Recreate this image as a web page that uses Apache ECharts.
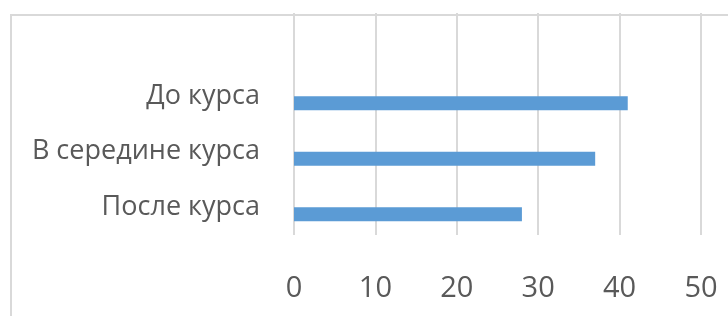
<!DOCTYPE html>
<html>
<head>
<meta charset="utf-8">
<script src="https://cdn.jsdelivr.net/npm/echarts@6/dist/echarts.min.js"></script>
<style>
html,body{margin:0;padding:0;background:#fff;}
#chart{width:728px;height:316px;}
</style>
</head>
<body>
<div id="chart"></div>
<script>
// категории снизу вверх, верхняя пустая (как в исходнике)
let categories = ['После курса', 'В середине курса', 'До курса', ''];
let values = [28, 37, 41, null];
let emptyValues = [null, null, null, null];
let xTicks = [0, 10, 20, 30, 40, 50];

let chart = echarts.init(document.getElementById('chart'));
let option = {
    animation: false,
    grid: {left: 294, right: 27, top: 13, bottom: 81},
    graphic: [{
        type: 'rect',
        shape: {x: 11, y: 15, width: 800, height: 400},
        style: {fill: 'none', stroke: '#d9d9d9', lineWidth: 2},
        silent: true,
        z: -1
    }],
    xAxis: {
        type: 'value',
        min: xTicks[0],
        max: xTicks[xTicks.length - 1],
        interval: 10,
        axisLine: {show: false},
        axisTick: {show: false},
        splitLine: {show: true, lineStyle: {color: '#d9d9d9', width: 2}},
        axisLabel: {
            color: '#595959',
            fontFamily: 'Open Sans',
            fontSize: 29,
            margin: 39
        }
    },
    yAxis: {
        type: 'category',
        data: categories,
        axisLine: {show: false},
        axisTick: {show: false},
        axisLabel: {
            color: '#595959',
            fontFamily: 'Open Sans',
            fontSize: 27,
            margin: 34
        }
    },
    series: [{
        type: 'bar',
        data: emptyValues,
        barWidth: 14,
        barGap: '0%'
    }, {
        type: 'bar',
        data: values,
        barWidth: 14,
        barGap: '0%',
        itemStyle: {color: '#5b9bd5'}
    }]
};
chart.setOption(option);
</script>
</body>
</html>
